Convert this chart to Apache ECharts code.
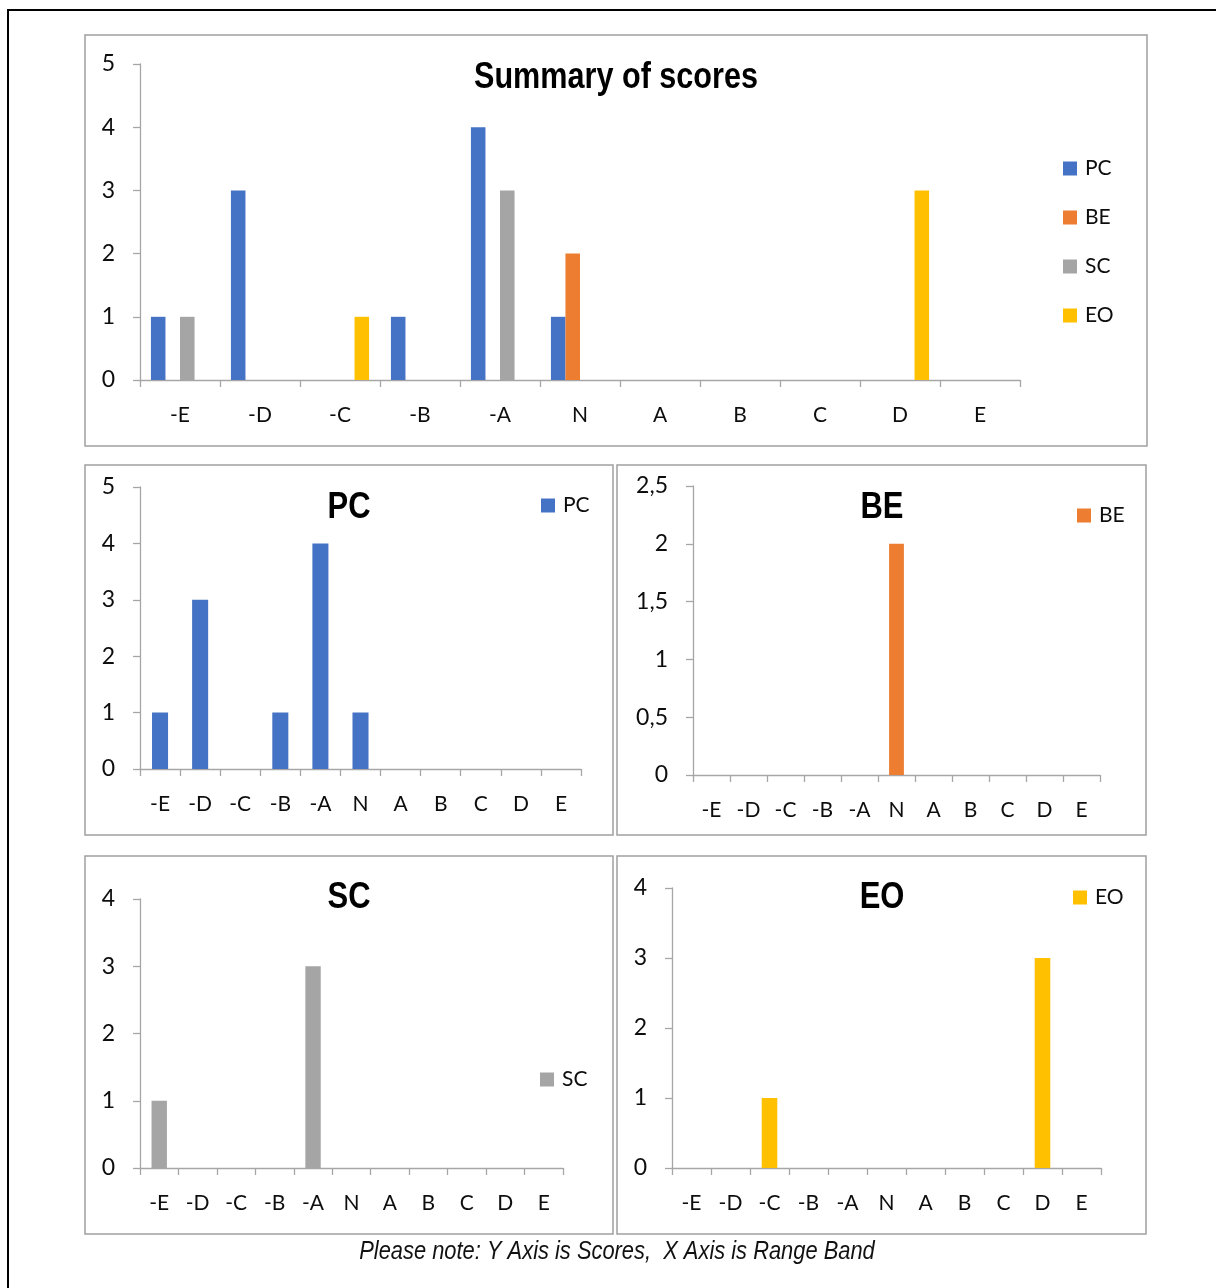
<!DOCTYPE html>
<html>
<head>
<meta charset="utf-8">
<title>Summary of scores</title>
<script src="https://cdn.jsdelivr.net/npm/echarts@6/dist/echarts.min.js"></script>
<style>
  html, body { margin: 0; padding: 0; background: #fff; }
  #chart { width: 1216px; height: 1288px; }
</style>
</head>
<body>
<div id="chart"></div>
<script>
// Range bands along the x axis
const bands = ['-E', '-D', '-C', '-B', '-A', 'N', 'A', 'B', 'C', 'D', 'E'];

// Scores per range band
const pcScores = [1, 3, 0, 1, 4, 1, 0, 0, 0, 0, 0];
const beScores = [0, 0, 0, 0, 0, 2, 0, 0, 0, 0, 0];
const scScores = [1, 0, 0, 0, 3, 0, 0, 0, 0, 0, 0];
const eoScores = [0, 0, 1, 0, 0, 0, 0, 0, 0, 3, 0];

// Y axis ranges for each chart: [max, interval]
const summaryRange = [5, 1];
const pcRange = [5, 1];
const beRange = [2.5, 0.5];
const scRange = [4, 1];
const eoRange = [4, 1];

const colors = { PC: '#4472C4', BE: '#ED7D31', SC: '#A5A5A5', EO: '#FFC000' };

const bodyFont = 'Lato, "Noto Sans", sans-serif';
const boldFont = '"Liberation Sans", Arial, sans-serif';
const axisGray = '#a6a6a6';

function xAxisFor(gridIndex) {
  return {
    type: 'category', gridIndex, data: bands, boundaryGap: true,
    axisLine: { lineStyle: { color: axisGray, width: 1.3 } },
    axisTick: { show: true, length: 7, lineStyle: { color: axisGray, width: 1.3 } },
    axisLabel: { color: '#0d0d0d', fontFamily: bodyFont, fontSize: 21, margin: 25, interval: 0 },
    splitLine: { show: false }
  };
}

function yAxisFor(gridIndex, range, comma) {
  return {
    type: 'value', gridIndex, min: 0, max: range[0], interval: range[1],
    axisLine: { show: true, lineStyle: { color: axisGray, width: 1.3 } },
    axisTick: { show: true, length: 7, lineStyle: { color: axisGray, width: 1.3 } },
    axisLabel: {
      color: '#0d0d0d', fontFamily: bodyFont, fontSize: 23, margin: 25,
      formatter: v => comma ? String(v).replace('.', ',') : String(v)
    },
    splitLine: { show: false }
  };
}

function bar(name, data, xi, yi, catGap, gap) {
  const s = {
    name, type: 'bar', data, xAxisIndex: xi, yAxisIndex: yi,
    itemStyle: { color: colors[name] },
    barCategoryGap: catGap,
    silent: true
  };
  if (gap !== undefined) s.barGap = gap;
  return s;
}

const legendText = { fontFamily: bodyFont, fontSize: 21, color: '#0d0d0d', lineHeight: 20, padding: [0, 0, 0, 3] };

function legendAt(name, left, top) {
  return {
    data: [name], left, top, padding: 0, orient: 'vertical',
    icon: 'rect', itemWidth: 14, itemHeight: 14,
    textStyle: legendText, selectedMode: false
  };
}

// Condensed bold heading, drawn centred on (x, y)
function heading(text, x, y, size, squeeze) {
  return {
    type: 'text', x, y, scaleX: squeeze, silent: true,
    style: {
      text, align: 'center', verticalAlign: 'middle',
      textAlign: 'center', textVerticalAlign: 'middle',
      font: 'bold ' + size + 'px ' + boldFont, fill: '#000'
    }
  };
}

function frame(x, y, w, h) {
  return {
    type: 'rect', shape: { x, y, width: w, height: h }, silent: true,
    style: { fill: 'none', stroke: '#a0a0a0', lineWidth: 1.5 }
  };
}

const option = {
  animation: false,
  backgroundColor: '#fff',
  legend: [
    {
      data: ['PC', 'BE', 'SC', 'EO'], left: 1063, top: 158, padding: 0, orient: 'vertical',
      icon: 'rect', itemWidth: 14, itemHeight: 14, itemGap: 28,
      textStyle: legendText, selectedMode: false
    },
    legendAt('PC', 541, 495),
    legendAt('BE', 1077, 505),
    legendAt('SC', 540, 1069),
    legendAt('EO', 1073, 887)
  ],
  grid: [
    { left: 140, top: 64, width: 880, height: 316 },
    { left: 140, top: 487, width: 441, height: 282 },
    { left: 693, top: 486, width: 407, height: 289 },
    { left: 140, top: 899, width: 423, height: 269 },
    { left: 672, top: 888, width: 429, height: 280 }
  ],
  xAxis: [xAxisFor(0), xAxisFor(1), xAxisFor(2), xAxisFor(3), xAxisFor(4)],
  yAxis: [
    yAxisFor(0, summaryRange, false),
    yAxisFor(1, pcRange, false),
    yAxisFor(2, beRange, true),
    yAxisFor(3, scRange, false),
    yAxisFor(4, eoRange, false)
  ],
  series: [
    bar('PC', pcScores, 0, 0, '27.3%', '0%'),
    bar('BE', beScores, 0, 0, '27.3%', '0%'),
    bar('SC', scScores, 0, 0, '27.3%', '0%'),
    bar('EO', eoScores, 0, 0, '27.3%', '0%'),
    bar('PC', pcScores, 1, 1, '60%'),
    bar('BE', beScores, 2, 2, '60%'),
    bar('SC', scScores, 3, 3, '60%'),
    bar('EO', eoScores, 4, 4, '60%')
  ],
  graphic: [
    {
      type: 'rect', shape: { x: 8, y: 10, width: 1240, height: 1300 }, silent: true,
      style: { fill: 'none', stroke: '#000', lineWidth: 2 }
    },
    frame(85, 35, 1062, 411),
    frame(85, 465, 528, 370),
    frame(617, 465, 529, 370),
    frame(85, 856, 528, 378),
    frame(617, 856, 529, 378),
    heading('Summary of scores', 616, 78, 36, 0.85),
    heading('PC', 349, 508, 36, 0.86),
    heading('BE', 882, 508, 36, 0.86),
    heading('SC', 349, 898, 36, 0.86),
    heading('EO', 882, 898, 36, 0.86),
    {
      type: 'text', x: 617, y: 1252, scaleX: 0.875, silent: true,
      style: {
        text: 'Please note: Y Axis is Scores,  X Axis is Range Band',
        align: 'center', verticalAlign: 'middle',
        textAlign: 'center', textVerticalAlign: 'middle',
        font: 'italic 25px "Liberation Sans", Arial, sans-serif',
        fill: '#111'
      }
    }
  ]
};

const chart = echarts.init(document.getElementById('chart'), null, { renderer: 'canvas' });
chart.setOption(option);
</script>
</body>
</html>
